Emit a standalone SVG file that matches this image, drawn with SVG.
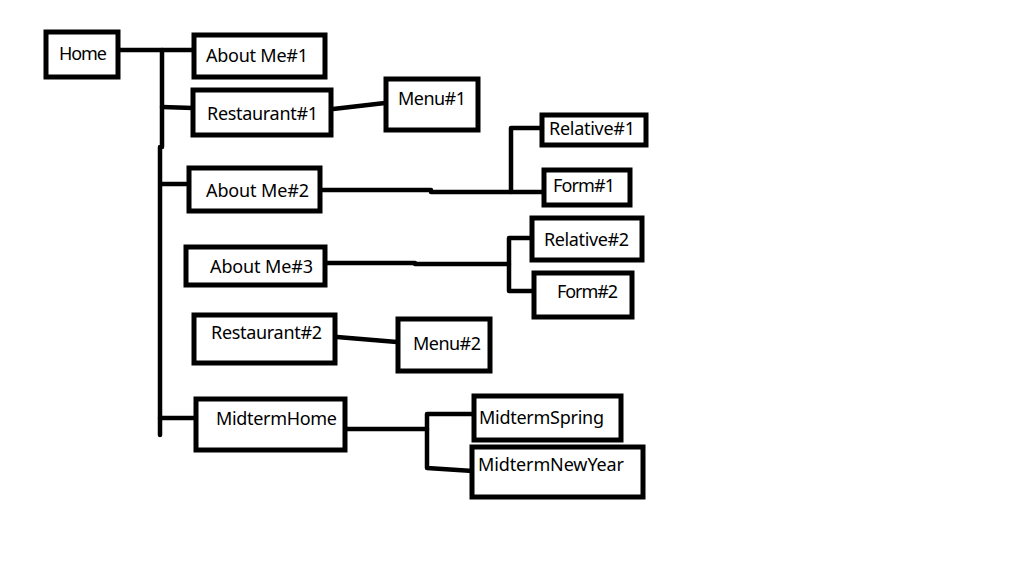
<svg xmlns="http://www.w3.org/2000/svg" width="1023" height="588" viewBox="0 0 1023 588">
<style>
.box{fill:#fff;stroke:#000;stroke-width:5;stroke-linejoin:miter}
.lbl{font-family:"Noto Sans","Open Sans",sans-serif;font-size:18px;fill:#000}
.ln{fill:none;stroke:#000;stroke-width:4.5;stroke-linecap:round;stroke-linejoin:round}
</style>
<rect width="1023" height="588" fill="#fff"/>
<g id="connectors">
<path class="ln" d="M117 50 H197"/>
<path class="ln" d="M162 50 V147 M160 147 V435"/>
<path class="ln" d="M162 107 L193 108"/>
<path class="ln" d="M162 184 L189 184"/>
<path class="ln" d="M160 418 L196 418"/>
<path class="ln" d="M333 109 L385 103"/>
<path class="ln" d="M321 190 H431 L431 192 H511"/>
<path class="ln" d="M511 192 V128 H542 M511 192 H544"/>
<path class="ln" d="M326 263 H415 L415 264 H509"/>
<path class="ln" d="M509 238 V291 M509 238 H532 M509 291 H534"/>
<path class="ln" d="M337 337 L397 342"/>
<path class="ln" d="M346 429 H427"/>
<path class="ln" d="M427 414 V468 M427 414 H473 M427 468 L473 471"/>
</g>
<g id="home"><rect class="box" x="46" y="32" width="72" height="45"/><text class="lbl" x="59" y="60" textLength="48">Home</text></g>
<g id="aboutme1"><rect class="box" x="194" y="35" width="131" height="42"/><text class="lbl" x="206" y="62" textLength="102">About Me#1</text></g>
<g id="restaurant1"><rect class="box" x="193" y="90" width="138" height="45"/><text class="lbl" x="207" y="120" textLength="111">Restaurant#1</text></g>
<g id="menu1"><rect class="box" x="386" y="79" width="92" height="51"/><text class="lbl" x="398" y="105" textLength="68">Menu#1</text></g>
<g id="aboutme2"><rect class="box" x="189" y="168" width="131" height="43"/><text class="lbl" x="206" y="197" textLength="103">About Me#2</text></g>
<g id="relative1"><rect class="box" x="542" y="115" width="104" height="30"/><text class="lbl" x="549" y="135" textLength="86">Relative#1</text></g>
<g id="form1"><rect class="box" x="544" y="170" width="86" height="35"/><text class="lbl" x="553" y="192" textLength="62">Form#1</text></g>
<g id="aboutme3"><rect class="box" x="186" y="247" width="139" height="38"/><text class="lbl" x="210" y="273" textLength="103">About Me#3</text></g>
<g id="relative2"><rect class="box" x="532" y="218" width="110" height="42"/><text class="lbl" x="544" y="246" textLength="85">Relative#2</text></g>
<g id="form2"><rect class="box" x="534" y="273" width="98" height="44"/><text class="lbl" x="557" y="298" textLength="61">Form#2</text></g>
<g id="restaurant2"><rect class="box" x="194" y="315" width="141" height="48"/><text class="lbl" x="211" y="339" textLength="111">Restaurant#2</text></g>
<g id="menu2"><rect class="box" x="398" y="319" width="92" height="52"/><text class="lbl" x="413" y="350" textLength="68">Menu#2</text></g>
<g id="midtermhome"><rect class="box" x="196" y="399" width="149" height="51"/><text class="lbl" x="216" y="425" textLength="121">MidtermHome</text></g>
<g id="midtermspring"><rect class="box" x="474" y="396" width="147" height="44"/><text class="lbl" x="479" y="424" textLength="125">MidtermSpring</text></g>
<g id="midtermnewyear"><rect class="box" x="472" y="447" width="171" height="50"/><text class="lbl" x="478" y="471" textLength="146">MidtermNewYear</text></g>
</svg>
